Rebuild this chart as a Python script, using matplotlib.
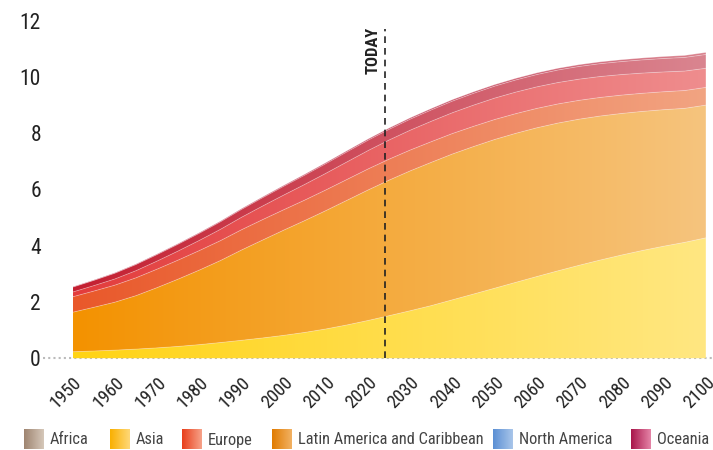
import matplotlib
matplotlib.use('Agg')
import matplotlib.pyplot as plt
import matplotlib.transforms as mtransforms
import numpy as np
from matplotlib import font_manager
from matplotlib.colors import LinearSegmentedColormap

# world population by region, billions (UN WPP 2019, medium variant)
years = list(range(1950, 2101, 5))
africa = [0.228, 0.255, 0.285, 0.322, 0.366, 0.418, 0.481, 0.556, 0.635, 0.719, 0.811,
          0.916, 1.039, 1.182, 1.341, 1.512, 1.688, 1.871, 2.077, 2.282, 2.489,
          2.698, 2.905, 3.108, 3.304, 3.491, 3.667, 3.831, 3.982, 4.120, 4.280]
asia = [1.405, 1.553, 1.705, 1.900, 2.142, 2.393, 2.650, 2.914, 3.210, 3.481, 3.741,
        3.978, 4.209, 4.433, 4.641, 4.822, 4.975, 5.096, 5.186, 5.246, 5.290,
        5.300, 5.290, 5.255, 5.197, 5.122, 5.036, 4.946, 4.856, 4.766, 4.720]
europe = [0.549, 0.577, 0.606, 0.635, 0.657, 0.677, 0.694, 0.708, 0.721, 0.727, 0.726,
          0.729, 0.736, 0.742, 0.748, 0.746, 0.741, 0.735, 0.728, 0.719, 0.710,
          0.700, 0.690, 0.680, 0.670, 0.661, 0.653, 0.645, 0.638, 0.634, 0.630]
latam = [0.169, 0.193, 0.220, 0.253, 0.287, 0.323, 0.361, 0.402, 0.443, 0.483, 0.522,
         0.558, 0.591, 0.624, 0.654, 0.681, 0.706, 0.726, 0.741, 0.754, 0.762,
         0.766, 0.766, 0.762, 0.754, 0.744, 0.731, 0.718, 0.704, 0.692, 0.680]
north_america = [0.173, 0.187, 0.204, 0.219, 0.231, 0.242, 0.254, 0.267, 0.280, 0.296, 0.313,
                 0.328, 0.343, 0.357, 0.369, 0.381, 0.393, 0.403, 0.413, 0.420, 0.425,
                 0.432, 0.438, 0.445, 0.451, 0.457, 0.462, 0.470, 0.479, 0.485, 0.491]
oceania = [0.013, 0.014, 0.016, 0.018, 0.020, 0.021, 0.023, 0.025, 0.027, 0.029, 0.031,
           0.034, 0.037, 0.040, 0.043, 0.046, 0.048, 0.051, 0.053, 0.055, 0.057,
           0.059, 0.061, 0.063, 0.065, 0.066, 0.068, 0.069, 0.071, 0.073, 0.075]

labels = ['Africa', 'Asia', 'Europe', 'Latin America and Caribbean', 'North America', 'Oceania']
series = [africa, asia, europe, latam, north_america, oceania]
x_ticks = list(range(1950, 2101, 10))
y_ticks = list(range(0, 13, 2))
today = 2024

# colours of the stacked bands (left end -> right end)
band_colors = [('#FFD314', '#FFE782'), ('#F39200', '#F6C47E'), ('#E9582A', '#F2A482'),
               ('#E33C3C', '#EF8D8E'), ('#C41F31', '#DA8590'), ('#B5183A', '#D9808C')]
# colours of the legend swatches
legend_colors = [('#9E8470', '#D6C8BA'), ('#F9B000', '#FFD878'), ('#E83E1A', '#F7A38A'),
                 ('#E07B00', '#F2B264'), ('#5B8FD4', '#A9C6EA'), ('#A8154A', '#E585A8')]

installed = {f.name for f in font_manager.fontManager.ttflist}
fam = 'Roboto'
for name in ['Roboto Condensed', 'Liberation Sans Narrow', 'Roboto']:
    if name in installed:
        fam = name
        break
plt.rcParams['font.family'] = [fam, 'DejaVu Sans']

fig = plt.figure(figsize=(7.13, 4.5), dpi=100)
ax = fig.add_axes([43 / 713, 1 - 361 / 450, 670 / 713, 343 / 450])

grad = np.linspace(0, 1, 256).reshape(1, -1)
x = np.array(years)
base = np.zeros(len(years))
for vals, (c1, c2) in zip(series, band_colors):
    top = base + np.array(vals)
    poly = ax.fill_between(x, base, top, color='none', lw=0)
    cmap = LinearSegmentedColormap.from_list('band', [c1, c2])
    im = ax.imshow(grad, extent=[1950, 2100, -0.1, 12.1], aspect='auto', cmap=cmap,
                   interpolation='bilinear', zorder=1)
    im.set_clip_path(poly.get_paths()[0], transform=ax.transData)
    ax.plot(x, top, color='white', alpha=0.35, lw=0.6, zorder=2)
    base = top

ax.axhline(0, color='#BBBBBB', lw=1.5, ls=(0, (1, 1.5)), zorder=0)

ax.plot([today, today], [0, 11.7], color='#222222', lw=1.2, ls=(0, (4, 3)), zorder=3)
ax.annotate('TODAY', xy=(today, 11.8), xytext=(-3, 0), textcoords='offset points',
            rotation=90, ha='right', va='top', fontsize=12, fontweight='bold', color='#222222')

ax.set_xlim(1943, 2101.7)
ax.set_ylim(-0.1, 12.1)
ax.set_xticks(x_ticks)
ax.set_xticklabels([str(t) for t in x_ticks], rotation=45, ha='right',
                   rotation_mode='anchor', fontsize=13.2, color='#222222')
# labels drift slightly left of their ticks going right, as in the original
n = len(x_ticks)
for i, lab in enumerate(ax.get_xticklabels()):
    dx = 5 - 18 * i / (n - 1)
    lab.set_transform(lab.get_transform() +
                      mtransforms.ScaledTranslation(dx / 100, 0, fig.dpi_scale_trans))
ax.set_yticks(y_ticks)
ax.set_yticklabels([str(t) for t in y_ticks], fontsize=15.5, color='#222222')
ax.tick_params(axis='both', length=0)
ax.tick_params(axis='x', pad=9)
ax.tick_params(axis='y', pad=1.5)
for s in ax.spines.values():
    s.set_visible(False)

# legend drawn in pixel coordinates of the figure
lax = fig.add_axes([0, 0, 1, 1])
lax.axis('off')
lax.patch.set_visible(False)
swatch_x = [24, 110, 182, 272, 493, 631]
for sx, lab, (c1, c2) in zip(swatch_x, labels, legend_colors):
    cmap = LinearSegmentedColormap.from_list('sw', [c1, c2])
    lax.imshow(grad, extent=[sx, sx + 20, 449, 429], aspect='auto', cmap=cmap,
               interpolation='bilinear')
    lax.text(sx + 26, 440, lab, fontsize=11.8, color='#444444', va='center', ha='left')
lax.set_xlim(0, 713)
lax.set_ylim(450, 0)

fig.savefig('out.png', dpi=100)
